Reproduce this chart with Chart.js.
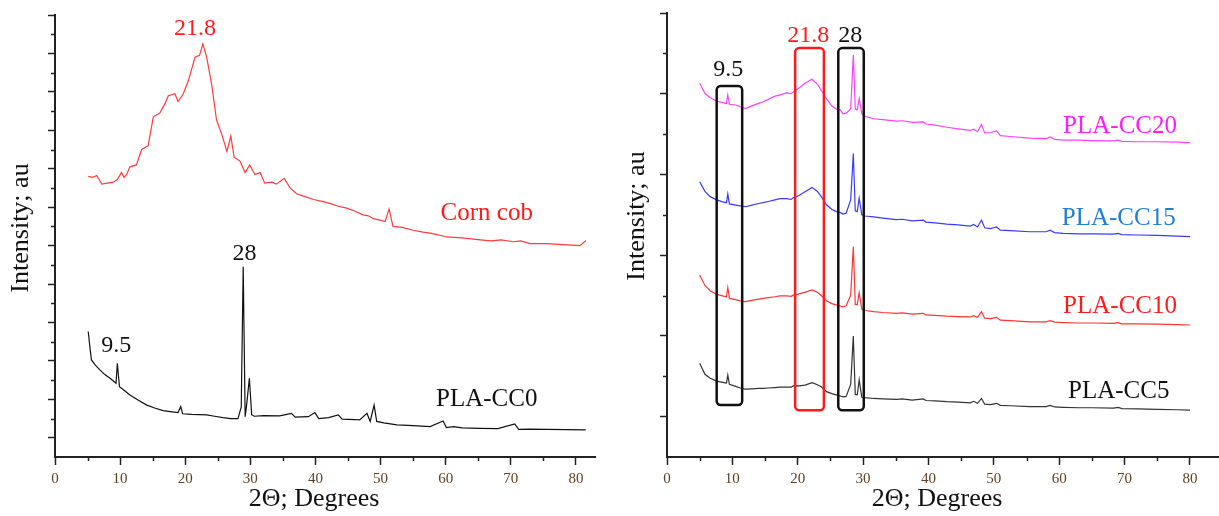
<!DOCTYPE html>
<html>
<head>
<meta charset="utf-8">
<title>XRD patterns</title>
<script src="https://cdn.jsdelivr.net/npm/chart.js@4.4.1/dist/chart.umd.min.js"></script>
<style>
  body { margin: 0; background: #fff; width: 1219px; height: 516px; position: relative; overflow: hidden; }
  .panel { position: absolute; top: 0; height: 516px; }
  #left { left: 0; width: 605px; }
  #right { left: 610px; width: 609px; }
</style>
</head>
<body>
<div class="panel" id="left"><canvas id="leftChart"></canvas></div>
<div class="panel" id="right"><canvas id="rightChart"></canvas></div>
<script>
// ---- left panel: raw corn cob and PLA-CC0 (2theta, intensity au) ----
const cornCobTheta = [5.1, 5.8, 6.4, 7.2, 8.0, 8.96, 9.6, 10.2, 10.6, 11.0,
  11.5, 12.5, 13.3, 14.3, 15.1, 16.1, 16.9, 17.4, 18.4, 18.9,
  19.7, 20.5, 21.5, 22.2, 22.7, 23.3, 24.1, 24.8, 25.6, 26.4,
  27.0, 27.5, 28.4, 29.2, 29.9, 30.7, 31.5, 32.2, 33.3, 34.0,
  35.2, 36.1, 37.1, 38.4, 39.7, 41.0, 42.2, 43.5, 44.8, 46.0,
  47.3, 48.1, 48.9, 50.2, 50.7, 51.3, 51.9, 53.3, 55.0, 56.5,
  57.6, 59.0, 60.1, 62.5, 65.3, 67.0, 68.5, 70.4, 71.5, 73.0,
  75.5, 78.0, 80.6, 81.5];
const cornCobI = [14.6, 14.55, 14.65, 14.2, 14.25, 14.3, 14.45, 14.8, 14.55, 14.7,
  15.1, 15.2, 16.0, 16.2, 17.7, 17.9, 18.4, 18.8, 18.9, 18.5,
  18.9, 19.6, 20.8, 20.9, 21.5, 20.8, 19.3, 17.55, 16.8, 15.9,
  16.7, 15.6, 15.4, 14.8, 15.2, 14.7, 14.8, 14.25, 14.3, 14.2,
  14.5, 14.0, 13.7, 13.55, 13.4, 13.3, 13.2, 13.05, 12.95, 12.8,
  12.6, 12.55, 12.4, 12.3, 12.25, 12.9, 12.0, 11.95, 11.8, 11.7,
  11.65, 11.55, 11.45, 11.4, 11.3, 11.25, 11.3, 11.2, 11.25, 11.1,
  11.1, 11.05, 11.0, 11.25];

const cc0Theta = [5.1, 5.4, 5.6, 6.2, 6.9, 7.6, 8.45, 9.37, 9.57, 9.9,
  10.7, 11.5, 12.8, 14.1, 15.3, 16.6, 18.0, 18.9, 19.3, 19.6,
  21.0, 23.3, 24.5, 25.8, 27.0, 28.1, 28.6, 28.9, 29.2, 29.4,
  29.85, 30.2, 30.6, 32.0, 34.5, 36.3, 36.9, 38.9, 39.9, 40.5,
  42.0, 43.5, 44.1, 46.0, 46.8, 47.9, 48.4, 49.0, 49.4, 50.5,
  52.5, 55.0, 57.6, 59.6, 60.1, 61.2, 62.5, 65.3, 68.0, 70.6,
  71.2, 73.0, 75.5, 78.5, 81.5];
const cc0I = [6.53, 5.6, 5.05, 4.78, 4.53, 4.3, 4.1, 3.84, 4.88, 3.66,
  3.45, 3.23, 2.95, 2.7, 2.55, 2.41, 2.35, 2.31, 2.62, 2.25,
  2.22, 2.19, 2.12, 2.05, 2.0, 2.0, 2.6, 9.9, 2.1, 2.62,
  4.1, 2.2, 2.12, 2.15, 2.14, 2.27, 2.07, 2.1, 2.31, 2.0,
  2.05, 2.19, 1.97, 1.95, 1.93, 2.27, 1.85, 2.7, 1.85, 1.78,
  1.67, 1.63, 1.58, 1.87, 1.53, 1.58, 1.52, 1.49, 1.48, 1.72,
  1.44, 1.45, 1.44, 1.42, 1.41];

// ---- right panel: PLA blends, shared 2theta grid ----
const blendTheta = [5.0, 5.8, 6.6, 7.6, 8.5, 9.1, 9.3, 9.55, 10.5, 11.2,
  12.0, 13.0, 14.0, 14.7, 15.5, 16.5, 17.3, 18.3, 19.0, 19.3,
  20.2, 21.1, 22.2, 23.0, 23.6, 24.4, 25.2, 25.9, 26.5, 26.9,
  27.4, 28.1, 28.5, 28.8, 29.1, 29.4, 29.8, 30.3, 31.6, 33.0,
  35.1, 36.0, 37.5, 39.2, 39.6, 41.0, 42.8, 44.5, 46.4, 46.9,
  47.5, 48.1, 48.6, 49.5, 50.4, 51.0, 52.5, 55.5, 58.0, 58.6,
  59.3, 60.6, 63.0, 65.0, 68.3, 69.0, 69.6, 72.0, 75.0, 78.0,
  80.0];
const cc20I = [9.26, 9.01, 8.90, 8.82, 8.78, 8.76, 8.97, 8.74, 8.72, 8.68,
  8.63, 8.70, 8.76, 8.80, 8.86, 8.94, 8.97, 9.02, 9.00, 9.04,
  9.14, 9.26, 9.36, 9.24, 9.08, 8.88, 8.70, 8.62, 8.60, 8.50,
  8.52, 8.62, 9.96, 8.62, 8.60, 8.88, 8.50, 8.44, 8.38, 8.36,
  8.32, 8.33, 8.29, 8.30, 8.25, 8.22, 8.17, 8.13, 8.09, 8.12,
  8.06, 8.24, 8.03, 8.04, 8.08, 7.96, 7.94, 7.90, 7.89, 7.93,
  7.87, 7.85, 7.85, 7.84, 7.83, 7.85, 7.82, 7.81, 7.81, 7.80,
  7.79];
const cc15I = [6.82, 6.58, 6.45, 6.37, 6.32, 6.30, 6.52, 6.27, 6.24, 6.22,
  6.20, 6.24, 6.28, 6.30, 6.33, 6.37, 6.40, 6.40, 6.38, 6.42,
  6.48, 6.57, 6.68, 6.58, 6.45, 6.25, 6.14, 6.08, 6.06, 6.02,
  6.04, 6.37, 7.52, 6.10, 6.08, 6.41, 6.00, 5.97, 5.95, 5.92,
  5.88, 5.89, 5.85, 5.87, 5.82, 5.80, 5.77, 5.75, 5.72, 5.76,
  5.70, 5.87, 5.68, 5.66, 5.70, 5.62, 5.61, 5.58, 5.58, 5.62,
  5.56, 5.54, 5.53, 5.53, 5.52, 5.54, 5.51, 5.50, 5.49, 5.47,
  5.46];
const cc10I = [4.51, 4.25, 4.12, 4.03, 3.99, 3.97, 4.20, 3.93, 3.90, 3.87,
  3.85, 3.88, 3.91, 3.93, 3.95, 3.97, 3.99, 3.99, 3.98, 4.01,
  4.04, 4.08, 4.14, 4.08, 4.00, 3.87, 3.80, 3.77, 3.74, 3.72,
  3.74, 4.01, 5.21, 3.78, 3.77, 4.07, 3.66, 3.63, 3.60, 3.58,
  3.56, 3.57, 3.54, 3.56, 3.52, 3.51, 3.49, 3.48, 3.47, 3.50,
  3.46, 3.60, 3.44, 3.43, 3.46, 3.39, 3.38, 3.35, 3.35, 3.38,
  3.34, 3.33, 3.32, 3.32, 3.31, 3.33, 3.30, 3.30, 3.29, 3.28,
  3.27];
const cc5I = [2.32, 2.05, 1.95, 1.88, 1.85, 1.83, 2.03, 1.80, 1.75, 1.71,
  1.68, 1.69, 1.70, 1.70, 1.71, 1.72, 1.73, 1.73, 1.73, 1.76,
  1.76, 1.78, 1.84, 1.79, 1.74, 1.62, 1.57, 1.54, 1.51, 1.49,
  1.50, 1.80, 3.00, 1.55, 1.54, 1.91, 1.48, 1.47, 1.45, 1.44,
  1.43, 1.44, 1.41, 1.44, 1.40, 1.39, 1.37, 1.36, 1.34, 1.38,
  1.33, 1.45, 1.31, 1.30, 1.33, 1.28, 1.27, 1.25, 1.25, 1.28,
  1.24, 1.23, 1.22, 1.22, 1.21, 1.23, 1.20, 1.19, 1.18, 1.17,
  1.16];

// ---- tick values ----
const xMajor = [0, 10, 20, 30, 40, 50, 60, 70, 80];
const xMinor = [5, 15, 25, 35, 45, 55, 65, 75];
const leftYMajor = [1, 3, 5, 7, 9, 11, 13, 15, 17, 19, 21, 23];
const leftYMinor = [2, 4, 6, 8, 10, 12, 14, 16, 18, 20, 22];
const rightYMajor = [1, 3, 5, 7, 9, 11];
const rightYMinor = [2, 4, 6, 8, 10];

// ---- peak notes and series labels (data units) ----
const leftNotes = [
  { text: '21.8', x: 21.5, y: 22.27, color: '#ff1a1a', size: 24 },
  { text: 'Corn cob', x: 66.3, y: 12.7, color: '#ff1a1a', size: 25 },
  { text: '28', x: 29.1, y: 10.6, color: '#111', size: 24 },
  { text: '9.5', x: 9.4, y: 5.78, color: '#111', size: 24 },
  { text: 'PLA-CC0', x: 66.3, y: 3.0, color: '#111', size: 25 }
];
const rightNotes = [
  { text: '9.5', x: 9.38, y: 9.59, color: '#111', size: 24 },
  { text: '21.8', x: 21.6, y: 10.44, color: '#ff1a1a', size: 24 },
  { text: '28', x: 28.05, y: 10.44, color: '#111', size: 24 },
  { text: 'PLA-CC20', x: 69.3, y: 8.2, color: '#ff1aff', size: 25 },
  { text: 'PLA-CC15', x: 69.1, y: 5.9, color: '#1f7fd4', size: 25 },
  { text: 'PLA-CC10', x: 69.3, y: 3.74, color: '#ff1a1a', size: 25 },
  { text: 'PLA-CC5', x: 69.1, y: 1.62, color: '#111', size: 25 }
];
const rightBoxes = [
  { x0: 7.6, x1: 11.5, y0: 1.29, y1: 9.19, color: '#111' },
  { x0: 19.6, x1: 24.0, y0: 1.16, y1: 10.13, color: '#ff1a1a' },
  { x0: 26.2, x1: 30.1, y0: 1.16, y1: 10.13, color: '#111' }
];

function pairs(xs, ys) {
  return xs.map((x, i) => ({ x: x, y: ys[i] }));
}

function line(label, xs, ys, color) {
  return {
    label: label,
    data: pairs(xs, ys),
    borderColor: color,
    borderWidth: 1.2,
    pointRadius: 0,
    tension: 0,
    fill: false
  };
}

// minor ticks, boxes, notes and axis titles
const decor = {
  id: 'decor',
  afterDraw(chart, args, o) {
    const { ctx, chartArea: a, scales: { x, y } } = chart;
    ctx.save();
    ctx.strokeStyle = '#222';
    ctx.lineWidth = 1.5;
    o.xMinor.forEach(v => {
      const px = Math.round(x.getPixelForValue(v)) + 0.5;
      ctx.beginPath(); ctx.moveTo(px, a.bottom); ctx.lineTo(px, a.bottom + 4); ctx.stroke();
    });
    o.yMinor.forEach(v => {
      const py = Math.round(y.getPixelForValue(v)) + 0.5;
      ctx.beginPath(); ctx.moveTo(a.left, py); ctx.lineTo(a.left - 4, py); ctx.stroke();
    });

    (o.boxes || []).forEach(b => {
      const l = x.getPixelForValue(b.x0), r = x.getPixelForValue(b.x1);
      const t = y.getPixelForValue(b.y1), btm = y.getPixelForValue(b.y0);
      ctx.strokeStyle = b.color;
      ctx.lineWidth = 2.5;
      ctx.beginPath();
      if (ctx.roundRect) ctx.roundRect(l, t, r - l, btm - t, 4);
      else ctx.rect(l, t, r - l, btm - t);
      ctx.stroke();
    });

    ctx.textAlign = 'center';
    ctx.textBaseline = 'middle';
    o.notes.forEach(n => {
      ctx.font = n.size + 'px "Liberation Serif", "Times New Roman", serif';
      ctx.fillStyle = n.color;
      ctx.fillText(n.text, x.getPixelForValue(n.x), y.getPixelForValue(n.y));
    });

    ctx.fillStyle = '#111';
    ctx.font = '26px "Liberation Serif", "Times New Roman", serif';
    ctx.fillText('2\u0398; Degrees', o.xTitleAt[0], o.xTitleAt[1]);
    ctx.translate(o.yTitleAt[0], o.yTitleAt[1]);
    ctx.rotate(-Math.PI / 2);
    ctx.fillText('Intensity; au', 0, 0);
    ctx.restore();
  }
};

function makeOptions(p) {
  return {
    responsive: true,
    maintainAspectRatio: false,
    animation: false,
    layout: { padding: { left: 0, top: p.padTop, right: p.padRight, bottom: 0 } },
    plugins: {
      legend: { display: false },
      tooltip: { enabled: false },
      decor: p.decor
    },
    scales: {
      x: {
        type: 'linear',
        min: 0,
        max: p.xMax,
        afterBuildTicks: s => { s.ticks = xMajor.map(v => ({ value: v })); },
        afterFit: s => { s.height = 59; },
        ticks: {
          autoSkip: false,
          maxRotation: 0,
          padding: 5,
          color: '#5e3f22',
          font: { family: '"Liberation Serif", "Times New Roman", serif', size: 15 },
          callback: v => String(v)
        },
        grid: { drawOnChartArea: false, tickLength: 8, tickWidth: 1.5, tickColor: '#222' },
        border: { color: '#222', width: 2 }
      },
      y: {
        type: 'linear',
        min: 0,
        max: p.yMax,
        afterBuildTicks: s => { s.ticks = p.yMajor.map(v => ({ value: v })); },
        afterFit: s => { s.width = p.yWidth; },
        ticks: { display: false },
        grid: { drawOnChartArea: false, tickLength: 7, tickWidth: 1.5, tickColor: '#222' },
        border: { color: '#222', width: 2 }
      }
    }
  };
}

new Chart(document.getElementById('leftChart'), {
  type: 'line',
  data: {
    datasets: [
      line('Corn cob', cornCobTheta, cornCobI, '#ff3b3b'),
      line('PLA-CC0', cc0Theta, cc0I, '#111')
    ]
  },
  options: makeOptions({
    xMax: 83, yMax: 23, yMajor: leftYMajor, yWidth: 55, padTop: 15, padRight: 9.5,
    decor: { xMinor: xMinor, yMinor: leftYMinor, notes: leftNotes, xTitleAt: [314, 499], yTitleAt: [21, 228] }
  }),
  plugins: [decor]
});

new Chart(document.getElementById('rightChart'), {
  type: 'line',
  data: {
    datasets: [
      line('PLA-CC20', blendTheta, cc20I, '#ff40ff'),
      line('PLA-CC15', blendTheta, cc15I, '#3a3aff'),
      line('PLA-CC10', blendTheta, cc10I, '#ff3535'),
      line('PLA-CC5', blendTheta, cc5I, '#333')
    ]
  },
  options: makeOptions({
    xMax: 84.44, yMax: 11, yMajor: rightYMajor, yWidth: 57, padTop: 13, padRight: 0,
    decor: { xMinor: xMinor, yMinor: rightYMinor, notes: rightNotes, boxes: rightBoxes, xTitleAt: [327, 499], yTitleAt: [27, 216] }
  }),
  plugins: [decor]
});
</script>
</body>
</html>
